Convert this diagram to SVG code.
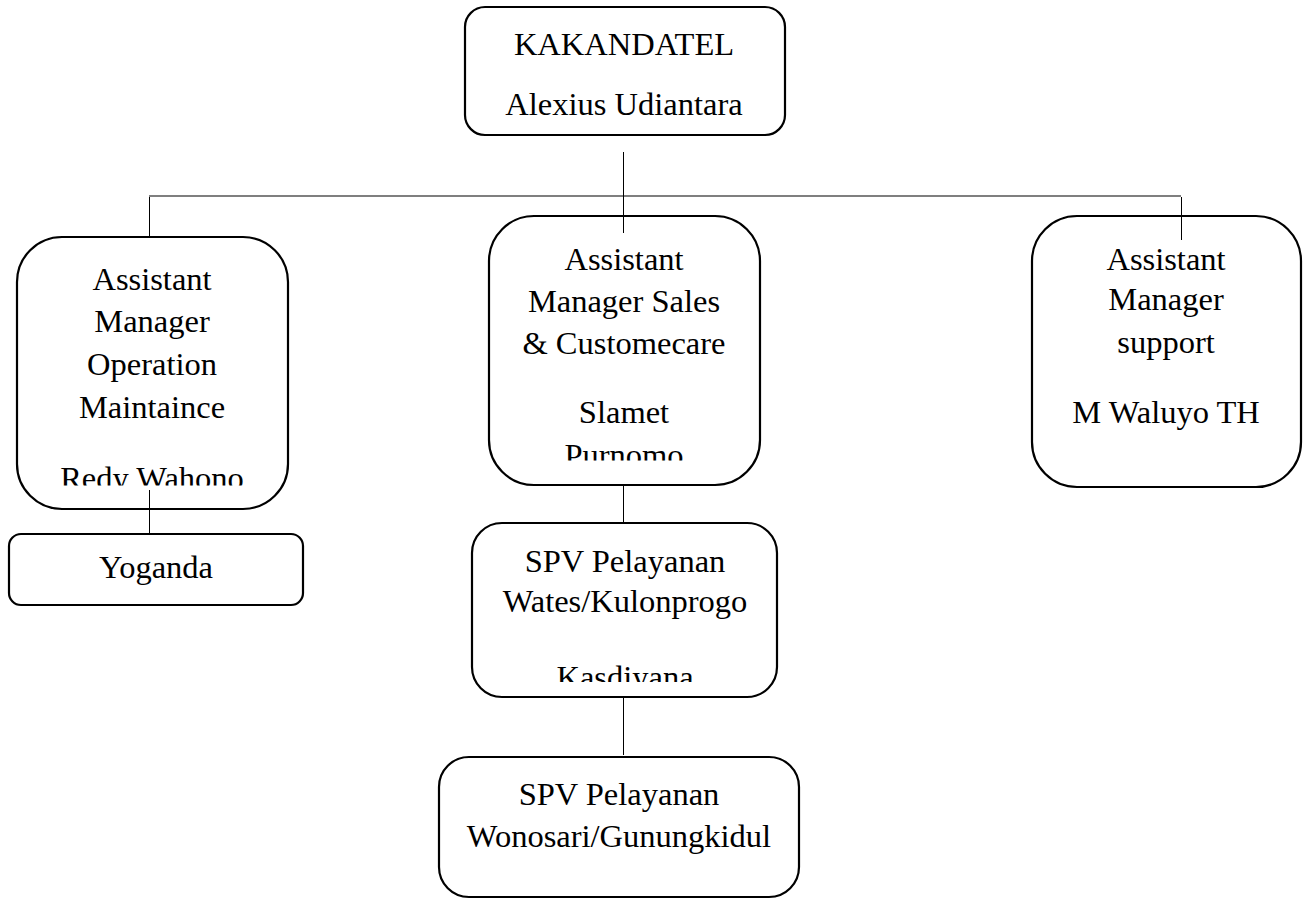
<svg xmlns="http://www.w3.org/2000/svg" width="1308" height="901" viewBox="0 0 1308 901">
<style>
.box{fill:#fff;stroke:#000;stroke-width:2.2}
.t{font-family:"Liberation Serif","Times New Roman",serif;font-size:32.5px;fill:#000;text-anchor:middle}
.c{stroke:#000;stroke-width:1;fill:none}
.h{stroke:#555;stroke-width:1.6;fill:none}
</style>
<defs>
<clipPath id="clipL"><rect x="0" y="440" width="310" height="45.5"/></clipPath>
<clipPath id="clipM"><rect x="470" y="430" width="320" height="30.5"/></clipPath>
<clipPath id="clipS"><rect x="460" y="640" width="340" height="42"/></clipPath>
</defs>
<rect width="1308" height="901" fill="#fff"/>
<g id="node-kakandatel">
<rect class="box" x="465" y="7" width="320" height="128" rx="20"/>
<text class="t" x="624" y="55">KAKANDATEL</text>
<text class="t" x="624" y="115">Alexius Udiantara</text>
</g>
<g id="node-am-operation">
<rect class="box" x="17" y="237" width="271" height="272" rx="45"/>
<text class="t" x="152" y="290">Assistant</text>
<text class="t" x="152" y="332">Manager</text>
<text class="t" x="152" y="375">Operation</text>
<text class="t" x="152" y="418">Maintaince</text>
<text class="t" x="152" y="489" clip-path="url(#clipL)">Redy Wahono</text>
</g>
<g id="node-yoganda">
<rect class="box" x="9" y="534" width="294" height="71" rx="12"/>
<text class="t" x="156" y="578">Yoganda</text>
</g>
<g id="node-am-sales">
<rect class="box" x="489" y="216" width="271" height="269" rx="45"/>
<text class="t" x="624" y="270">Assistant</text>
<text class="t" x="624" y="312">Manager Sales</text>
<text class="t" x="624" y="354">&amp; Customecare</text>
<text class="t" x="624" y="423">Slamet</text>
<text class="t" x="624" y="466" clip-path="url(#clipM)">Purnomo</text>
</g>
<g id="node-am-support">
<rect class="box" x="1032" y="216" width="269" height="271" rx="45"/>
<text class="t" x="1166" y="270">Assistant</text>
<text class="t" x="1166" y="310">Manager</text>
<text class="t" x="1166" y="353">support</text>
<text class="t" x="1166" y="423">M Waluyo TH</text>
</g>
<g id="node-spv-wates">
<rect class="box" x="472" y="523" width="305" height="174" rx="30"/>
<text class="t" x="625" y="572">SPV Pelayanan</text>
<text class="t" x="625" y="612">Wates/Kulonprogo</text>
<text class="t" x="625" y="688" clip-path="url(#clipS)">Kasdiyana</text>
</g>
<g id="node-spv-wonosari">
<rect class="box" x="439" y="757" width="360" height="140" rx="30"/>
<text class="t" x="619" y="805">SPV Pelayanan</text>
<text class="t" x="619" y="847">Wonosari/Gunungkidul</text>
</g>
<g id="connectors">
<line class="h" x1="149" y1="196" x2="1181" y2="196"/>
<line class="c" x1="623.5" y1="152" x2="623.5" y2="233"/>
<line class="c" x1="149.5" y1="197" x2="149.5" y2="237"/>
<line class="c" x1="1181.5" y1="197" x2="1181.5" y2="240"/>
<line class="c" x1="149.5" y1="490" x2="149.5" y2="534"/>
<line class="c" x1="623.5" y1="485" x2="623.5" y2="523"/>
<line class="c" x1="623.5" y1="698" x2="623.5" y2="755"/>
</g>
</svg>
